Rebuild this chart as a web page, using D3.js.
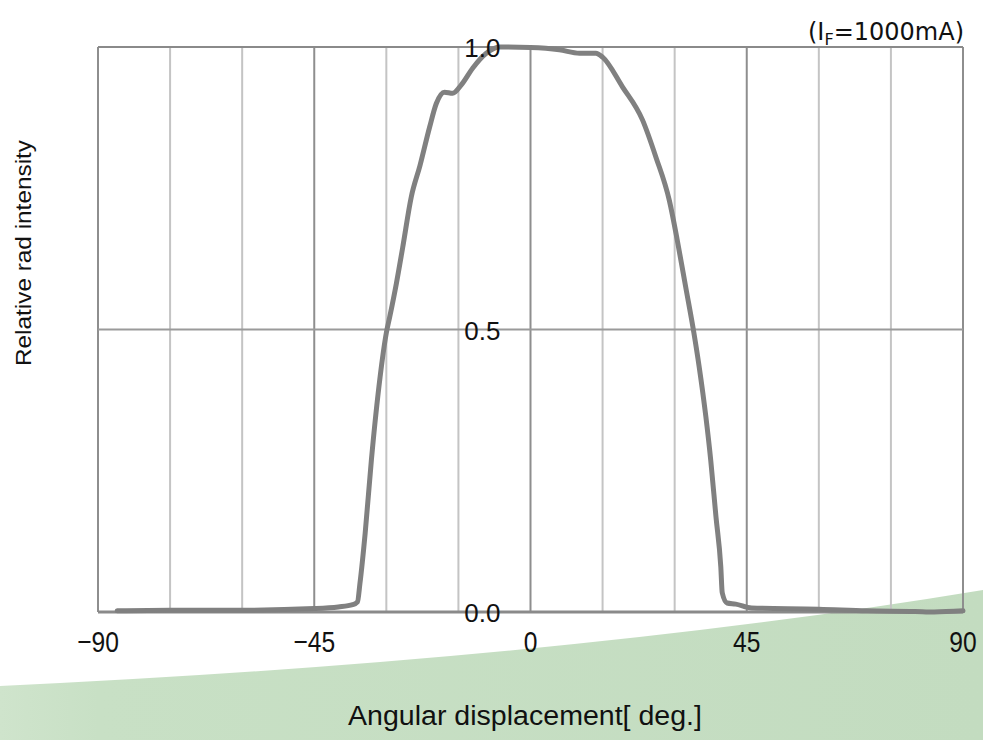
<!DOCTYPE html>
<html>
<head>
<meta charset="utf-8">
<script src="https://cdn.jsdelivr.net/npm/d3@7"></script>
<style>
  body { margin: 0; background: #fff; }
  svg { display: block; }
</style>
</head>
<body>
<div id="chart"></div>
<script>
// angle (deg) vs relative intensity
var angles = [-86, -75, -60, -45, -40, -37, -36, -35.5, -34.4, -33.1, -31.3, -30, -29.3, -27.9, -26.6,
  -24.8, -23, -21, -19.6, -17.9, -16.2, -14.4, -12, -9.2, -6.4, 0, 6, 10.2, 13.6, 15,
  19.1, 23.3, 26.1, 28.9, 30.5, 32.3, 34, 35.1, 36.5, 37.5, 38.6, 39.6, 39.9, 40.9, 42.7,
  46, 60, 70, 80, 84, 90];
var intensity = [0.002, 0.003, 0.003, 0.006, 0.009, 0.013, 0.018, 0.05, 0.14, 0.27, 0.416, 0.494, 0.522, 0.582, 0.645,
  0.735, 0.79, 0.858, 0.9, 0.92, 0.918, 0.933, 0.963, 0.989, 1.0, 0.999, 0.995, 0.989, 0.989, 0.982,
  0.93, 0.871, 0.805, 0.728, 0.66, 0.575, 0.494, 0.434, 0.345, 0.269, 0.168, 0.08, 0.034, 0.016, 0.014,
  0.007, 0.005, 0.002, 0.001, 0.0, 0.002];
var xTicks = [-90, -45, 0, 45, 90];
var xMinor = [-75, -60, -30, -15, 15, 30, 60, 75];
var yTicks = [0, 0.5, 1.0];

var W = 983, H = 740;
var margin = {top: 47, right: 18, bottom: 128, left: 98};

var svg = d3.select("#chart").append("svg")
  .attr("width", W)
  .attr("height", H);

// green swoosh in the background
var defs = svg.append("defs");
var grad = defs.append("linearGradient").attr("id", "green").attr("x1", 0).attr("x2", 1);
grad.append("stop").attr("offset", 0).attr("stop-color", "#cfe4cc");
grad.append("stop").attr("offset", 0.1).attr("stop-color", "#c8e0c5");
grad.append("stop").attr("offset", 1).attr("stop-color", "#c3dcc0");

svg.append("path")
  .attr("d", "M0,686 Q560,660 983,590 L983,740 L0,740 Z")
  .attr("fill", "url(#green)");

var x = d3.scaleLinear().domain([-90, 90]).range([margin.left, W - margin.right - 2]);
var y = d3.scaleLinear().domain([0, 1]).range([H - margin.bottom, margin.top]);

var g = svg.append("g");

// minor vertical grid
g.selectAll(".minor")
  .data(xMinor)
  .enter().append("line")
  .attr("x1", function(d) { return x(d); })
  .attr("x2", function(d) { return x(d); })
  .attr("y1", y(1))
  .attr("y2", y(0))
  .attr("stroke", "#c4c4c4")
  .attr("stroke-width", 2);

// major vertical grid
g.selectAll(".major")
  .data(xTicks)
  .enter().append("line")
  .attr("x1", function(d) { return x(d); })
  .attr("x2", function(d) { return x(d); })
  .attr("y1", y(1))
  .attr("y2", y(0))
  .attr("stroke", "#8e8e8e")
  .attr("stroke-width", 2);

// horizontal grid
g.selectAll(".hgrid")
  .data(yTicks)
  .enter().append("line")
  .attr("x1", x(-90))
  .attr("x2", x(90))
  .attr("y1", function(d) { return y(d); })
  .attr("y2", function(d) { return y(d); })
  .attr("stroke", function(d) { return d == 0.5 ? "#9a9a9a" : "#8a8a8a"; })
  .attr("stroke-width", function(d) { return d == 0 ? 3 : 2; });

var pts = angles.map(function(a, i) { return [a, intensity[i]]; });

var line = d3.line()
  .x(function(d) { return x(d[0]); })
  .y(function(d) { return y(d[1]); })
  .curve(d3.curveMonotoneX);

g.append("path")
  .datum(pts)
  .attr("d", line)
  .attr("fill", "none")
  .attr("stroke", "#808080")
  .attr("stroke-width", 5)
  .attr("stroke-linejoin", "round")
  .attr("stroke-linecap", "round");

// y tick labels sit left of the 0 deg line
g.selectAll(".ylab")
  .data(yTicks)
  .enter().append("text")
  .attr("x", x(0) - 30)
  .attr("y", function(d) { return y(d) + 10; })
  .attr("text-anchor", "end")
  .attr("font-family", "Liberation Sans, Arial, sans-serif")
  .attr("font-size", 26)
  .attr("fill", "#111")
  .text(function(d) { return d3.format(".1f")(d); });

// x tick labels (narrow face in the original, so squeeze them)
g.selectAll(".xlab")
  .data(xTicks)
  .enter().append("text")
  .attr("transform", function(d) { return "translate(" + x(d) + "," + (y(0) + 40) + ") scale(0.82,1)"; })
  .attr("text-anchor", "middle")
  .attr("font-family", "Liberation Sans, sans-serif")
  .attr("font-size", 30)
  .attr("fill", "#111")
  .text(function(d) { return d < 0 ? "\u2212" + Math.abs(d) : d; });

// axis titles
svg.append("text")
  .attr("x", 525)
  .attr("y", 725)
  .attr("text-anchor", "middle")
  .attr("font-family", "Liberation Sans, sans-serif")
  .attr("font-size", 27)
  .attr("textLength", 354)
  .attr("lengthAdjust", "spacingAndGlyphs")
  .attr("fill", "#111")
  .text("Angular displacement[ deg.]");

svg.append("text")
  .attr("transform", "translate(31,253) rotate(-90)")
  .attr("text-anchor", "middle")
  .attr("font-family", "Liberation Sans, Arial, sans-serif")
  .attr("font-size", 22)
  .attr("textLength", 226)
  .attr("lengthAdjust", "spacingAndGlyphs")
  .attr("fill", "#111")
  .text("Relative rad intensity");

var cond = svg.append("text")
  .attr("x", 964)
  .attr("y", 40)
  .attr("text-anchor", "end")
  .attr("font-family", "DejaVu Sans, Verdana, sans-serif")
  .attr("font-size", 24)
  .attr("fill", "#111");
cond.append("tspan").text("(I");
cond.append("tspan").attr("font-size", 16).attr("dy", 5).text("F");
cond.append("tspan").attr("dy", -5).text("=1000mA)");
</script>
</body>
</html>
